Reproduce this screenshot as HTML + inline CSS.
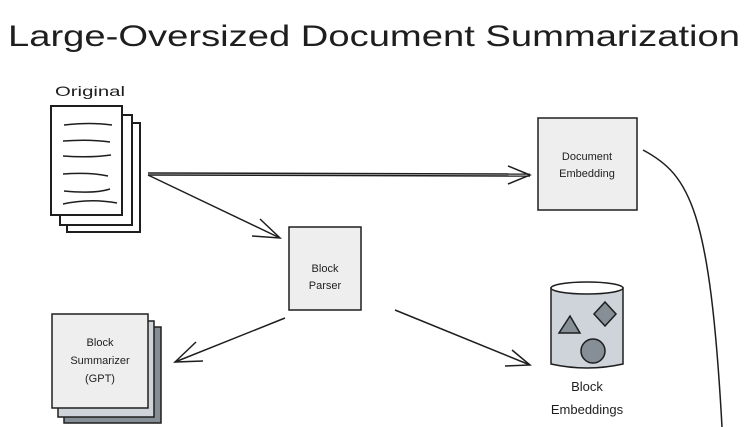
<!DOCTYPE html>
<html><head><meta charset="utf-8"><style>
html,body{margin:0;padding:0;background:#fff;}
svg{display:block;}
text{font-family:"Liberation Sans",sans-serif;fill:#1e1e1e;}
</style></head><body>
<svg width="748" height="427" viewBox="0 0 748 427" xmlns="http://www.w3.org/2000/svg">
<text x="8" y="46" font-size="30" textLength="732" lengthAdjust="spacingAndGlyphs">Large-Oversized Document Summarization</text>
<text x="55" y="96" font-size="14" textLength="70" lengthAdjust="spacingAndGlyphs">Original</text>
<g stroke="#1e1e1e" stroke-width="2" fill="#fff">
<rect x="67" y="123" width="73" height="109"/>
<rect x="60" y="115" width="72" height="110"/>
<rect x="51" y="106" width="71" height="109"/>
</g>
<g stroke="#1e1e1e" stroke-width="1.5" fill="none">
<path d="M64 125 Q90 122 112 125"/>
<path d="M63 141 Q90 139 110 142"/>
<path d="M63 156 Q90 158 111 155"/>
<path d="M63 174 Q90 172 108 176"/>
<path d="M64 191 Q95 194 110 189"/>
<path d="M63 204 Q90 198 117 203"/>
<path d="M148 173 L530 174"/>
<path d="M148 175 L530 176"/>
<path d="M508 166 L530 175 L508 184"/>
<path d="M148 175 L280 238"/>
<path d="M260 219 L280 238 L252 236"/>
<path d="M285 318 L175 362"/>
<path d="M196 342 L175 362 L203 361"/>
<path d="M395 310 L530 365"/>
<path d="M512 350 L530 365 L505 366"/>
<path d="M643 150 C690 175 710 210 722 427"/>
</g>
<rect x="289" y="227" width="72" height="83" fill="#eee" stroke="#1e1e1e" stroke-width="1.5"/>
<text x="325" y="272" font-size="11" text-anchor="middle">Block</text>
<text x="325" y="289" font-size="11" text-anchor="middle">Parser</text>
<rect x="538" y="118" width="99" height="92" fill="#eee" stroke="#1e1e1e" stroke-width="1.5"/>
<text x="587" y="160" font-size="11" text-anchor="middle">Document</text>
<text x="587" y="177" font-size="11" text-anchor="middle">Embedding</text>
<g stroke="#1e1e1e" stroke-width="1.5">
<rect x="64" y="327" width="97" height="96" fill="#868e96"/>
<rect x="58" y="321" width="96" height="96" fill="#ced4da"/>
<rect x="52" y="314" width="96" height="94" fill="#eee"/>
</g>
<text x="100" y="346" font-size="11" text-anchor="middle">Block</text>
<text x="100" y="364" font-size="11" text-anchor="middle">Summarizer</text>
<text x="100" y="382" font-size="11" text-anchor="middle">(GPT)</text>
<g stroke="#1e1e1e" stroke-width="1.5">
<path d="M551 288 L551 364 Q587 372 623 364 L623 288 Z" fill="#ced4da"/>
<ellipse cx="587" cy="288" rx="36" ry="6" fill="#fff"/>
<path d="M570 316 L580 333 L559 333 Z" fill="#868e96"/>
<path d="M605 302 L616 314 L605 326 L594 314 Z" fill="#868e96"/>
<circle cx="593" cy="351" r="12" fill="#868e96"/>
</g>
<text x="587" y="391" font-size="13" text-anchor="middle">Block</text>
<text x="587" y="414" font-size="13" text-anchor="middle">Embeddings</text>
</svg>
</body></html>
